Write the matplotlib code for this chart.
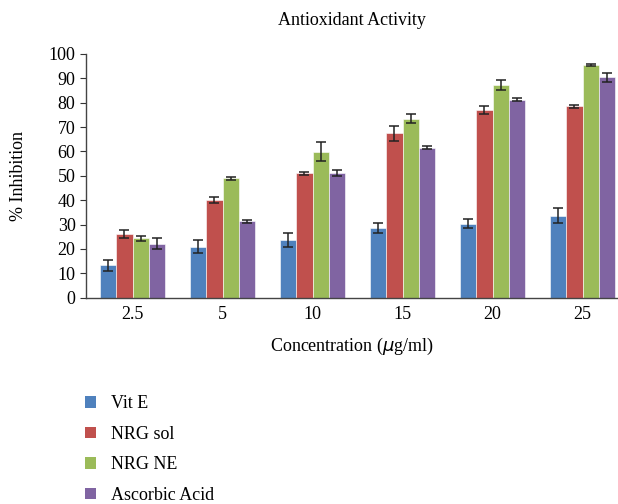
import matplotlib
matplotlib.use("Agg")
import matplotlib.pyplot as plt
import numpy as np
from matplotlib.patches import Patch

categories = ["2.5", "5", "10", "15", "20", "25"]
series_names = ["Vit E", "NRG sol", "NRG NE", "Ascorbic Acid"]
vit_e = [13.3, 20.9, 23.7, 28.7, 30.4, 33.7]
vit_e_err = [2.3, 2.7, 2.8, 2.0, 1.7, 3.0]
nrg_sol = [26.0, 40.1, 51.0, 67.4, 76.9, 78.5]
nrg_sol_err = [1.6, 1.4, 0.6, 3.0, 1.7, 0.7]
nrg_ne = [24.4, 49.0, 59.8, 73.5, 87.3, 95.5]
nrg_ne_err = [1.0, 0.5, 3.9, 1.9, 2.2, 0.5]
ascorbic = [22.2, 31.3, 51.0, 61.6, 81.3, 90.4]
ascorbic_err = [2.3, 0.6, 1.2, 0.5, 0.6, 1.7]
yticks = list(range(0, 101, 10))

colors = ["#4F81BD", "#C0504D", "#9BBB59", "#8064A2"]
plt.rcParams['font.family'] = ['Liberation Serif', 'DejaVu Serif']

fig = plt.figure(figsize=(6.18, 5.04), dpi=100)
ax = fig.add_axes([86/618, 1-297.7/504, 532/618, (297.7-54)/504])

x = np.arange(len(categories))
w = 0.18
data = [vit_e, nrg_sol, nrg_ne, ascorbic]
errs = [vit_e_err, nrg_sol_err, nrg_ne_err, ascorbic_err]
for i, (vals, err, c, name) in enumerate(zip(data, errs, colors, series_names)):
    ax.bar(x + (i - 1.5) * w, vals, w, color=c, edgecolor="white", linewidth=0.4,
           yerr=err, capsize=3.5, error_kw=dict(ecolor="#222222", elinewidth=1.1, capthick=1.1),
           label=name)

ax.set_xlim(-0.517, 5.394)
ax.set_ylim(0, 100)
ax.set_yticks(yticks)
ax.set_xticks(x)
ax.set_xticklabels(categories)
ax.tick_params(axis='x', length=0, labelsize=13, pad=6)
ax.tick_params(axis='y', length=4, direction='out', labelsize=13, color="#333333")
for s in ["top", "right"]:
    ax.spines[s].set_visible(False)
for s in ["left", "bottom"]:
    ax.spines[s].set_color("#444444")
    ax.spines[s].set_linewidth(1.0)

ax.set_ylabel("% Inhibition", fontsize=13)
ax.yaxis.set_label_coords(-0.11, 0.5)
ax.set_xlabel("Concentration ($\\mu$g/ml)", fontsize=13, labelpad=9)
ax.set_title("Antioxidant Activity", fontsize=13, pad=21)

phandles = [Patch(facecolor=c) for c in colors]
fig.legend(phandles, series_names, loc="upper left", bbox_to_anchor=(0.138, 0.216),
           frameon=False, fontsize=13, handlelength=0.6, handleheight=0.6,
           labelspacing=0.75, handletextpad=0.8, borderaxespad=0, borderpad=0)

fig.savefig("out.png", dpi=100)
